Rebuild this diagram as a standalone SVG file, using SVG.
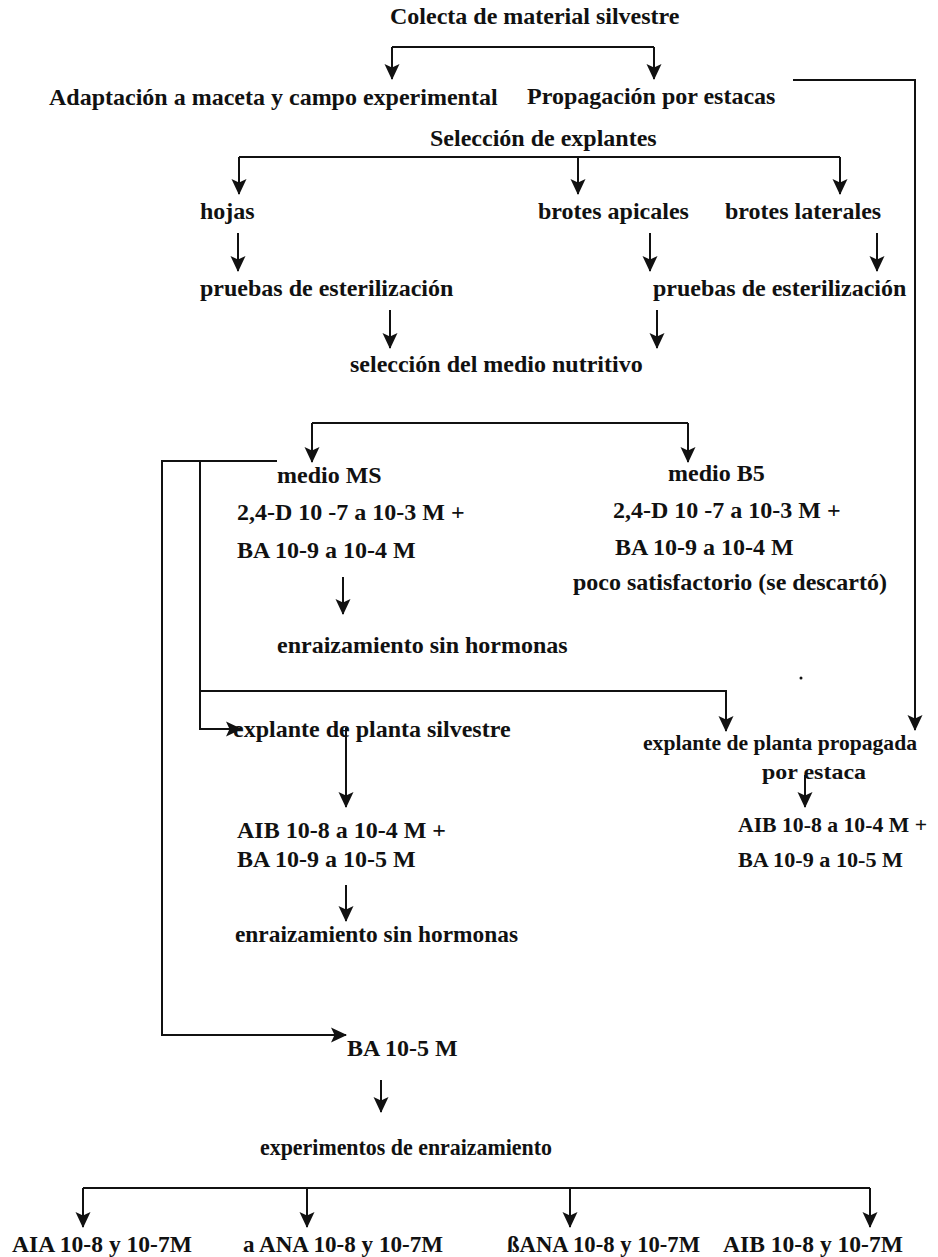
<svg xmlns="http://www.w3.org/2000/svg" width="938" height="1257" viewBox="0 0 938 1257">
<style>
text{font-family:"Liberation Serif","Times New Roman",serif;font-weight:bold;font-size:24px;fill:#111}
.s text{font-size:22px}
.c path{fill:none;stroke:#111;stroke-width:2}
.a{marker-end:url(#ah)}
</style>
<defs>
<marker id="ah" markerUnits="userSpaceOnUse" viewBox="-16 -9 18 18" refX="0" refY="0" markerWidth="18" markerHeight="18" orient="auto">
<path d="M1,0 L-15,-7.5 L-11.5,0 L-15,7.5 Z" fill="#111"/>
</marker>
</defs>
<rect width="938" height="1257" fill="#fff"/>
<g class="c" id="connectors">
<path d="M392,47 H654"/>
<path class="a" d="M392,47 V79"/>
<path class="a" d="M654,47 V79"/>
<path class="a" d="M793,80 H915 V730"/>
<path d="M239,157 H840"/>
<path class="a" d="M239,157 V194"/>
<path class="a" d="M578,157 V194"/>
<path class="a" d="M840,157 V194"/>
<path class="a" d="M238,233 V271"/>
<path class="a" d="M650,233 V271"/>
<path class="a" d="M877,233 V271"/>
<path class="a" d="M390,310 V348"/>
<path class="a" d="M657,310 V348"/>
<path d="M312,423 H688"/>
<path class="a" d="M312,423 V462"/>
<path class="a" d="M688,423 V462"/>
<path class="a" d="M343,577 V614"/>
<path class="a" d="M277,461 H162 V1035 H346"/>
<path class="a" d="M200,461 V729 H241"/>
<path class="a" d="M200,691 H726 V731"/>
<path class="a" d="M346,728 V807"/>
<path class="a" d="M346,885 V921"/>
<path class="a" d="M805,775 V807"/>
<path class="a" d="M381,1080 V1112"/>
<path d="M83,1188 H870"/>
<path class="a" d="M83,1188 V1227"/>
<path class="a" d="M307,1188 V1227"/>
<path class="a" d="M570,1188 V1227"/>
<path class="a" d="M870,1188 V1227"/>
</g>
<circle cx="801" cy="678" r="1.5" fill="#111"/>
<g id="n-colecta"><text x="390" y="24">Colecta de material silvestre</text></g>
<g id="n-adaptacion"><text x="49" y="105">Adaptación a maceta y campo experimental</text></g>
<g id="n-propagacion"><text x="527" y="104">Propagación por estacas</text></g>
<g id="n-seleccion"><text x="430" y="146">Selección de explantes</text></g>
<g id="n-hojas"><text x="200" y="219">hojas</text></g>
<g id="n-apicales"><text x="538" y="219">brotes apicales</text></g>
<g id="n-laterales"><text x="725" y="219">brotes laterales</text></g>
<g id="n-pruebas1"><text x="200" y="296">pruebas de esterilización</text></g>
<g id="n-pruebas2"><text x="653" y="296">pruebas de esterilización</text></g>
<g id="n-medio"><text x="350" y="372">selección del medio nutritivo</text></g>
<g id="n-ms">
<text x="277" y="483">medio MS</text>
<text x="237" y="520">2,4-D 10 -7 a 10-3 M +</text>
<text x="237" y="558">BA 10-9 a 10-4 M</text>
</g>
<g id="n-b5">
<text x="668" y="481">medio B5</text>
<text x="613" y="518">2,4-D 10 -7 a 10-3 M +</text>
<text x="615" y="555">BA 10-9 a 10-4 M</text>
<text x="573" y="590">poco satisfactorio (se descartó)</text>
</g>
<g id="n-enraiz1"><text x="277" y="653">enraizamiento sin hormonas</text></g>
<g id="n-silvestre"><text x="233" y="737">explante de planta silvestre</text></g>
<g id="n-propagada" class="s">
<text x="643" y="750" textLength="274" lengthAdjust="spacingAndGlyphs">explante de planta propagada</text>
<text x="762" y="779" textLength="104" lengthAdjust="spacingAndGlyphs">por estaca</text>
</g>
<g id="n-aib2" class="s">
<text x="738" y="832" textLength="189" lengthAdjust="spacingAndGlyphs">AIB 10-8 a 10-4 M +</text>
<text x="738" y="867" textLength="165" lengthAdjust="spacingAndGlyphs">BA 10-9 a 10-5 M</text>
</g>
<g id="n-aib1">
<text x="237" y="838">AIB 10-8 a 10-4 M +</text>
<text x="237" y="867">BA 10-9 a 10-5 M</text>
</g>
<g id="n-enraiz2"><text x="235" y="942" textLength="283" lengthAdjust="spacingAndGlyphs">enraizamiento sin hormonas</text></g>
<g id="n-ba"><text x="347" y="1056">BA 10-5 M</text></g>
<g id="n-exp"><text x="260" y="1155" textLength="292" lengthAdjust="spacingAndGlyphs">experimentos de enraizamiento</text></g>
<g id="n-aia"><text x="12" y="1252" textLength="180" lengthAdjust="spacingAndGlyphs">AIA 10-8 y 10-7M</text></g>
<g id="n-ana"><text x="243" y="1252" textLength="200" lengthAdjust="spacingAndGlyphs">a ANA 10-8 y 10-7M</text></g>
<g id="n-bana"><text x="507" y="1252" textLength="193" lengthAdjust="spacingAndGlyphs">ßANA 10-8 y 10-7M</text></g>
<g id="n-aib3"><text x="723" y="1252" textLength="180" lengthAdjust="spacingAndGlyphs">AIB 10-8 y 10-7M</text></g>
</svg>
